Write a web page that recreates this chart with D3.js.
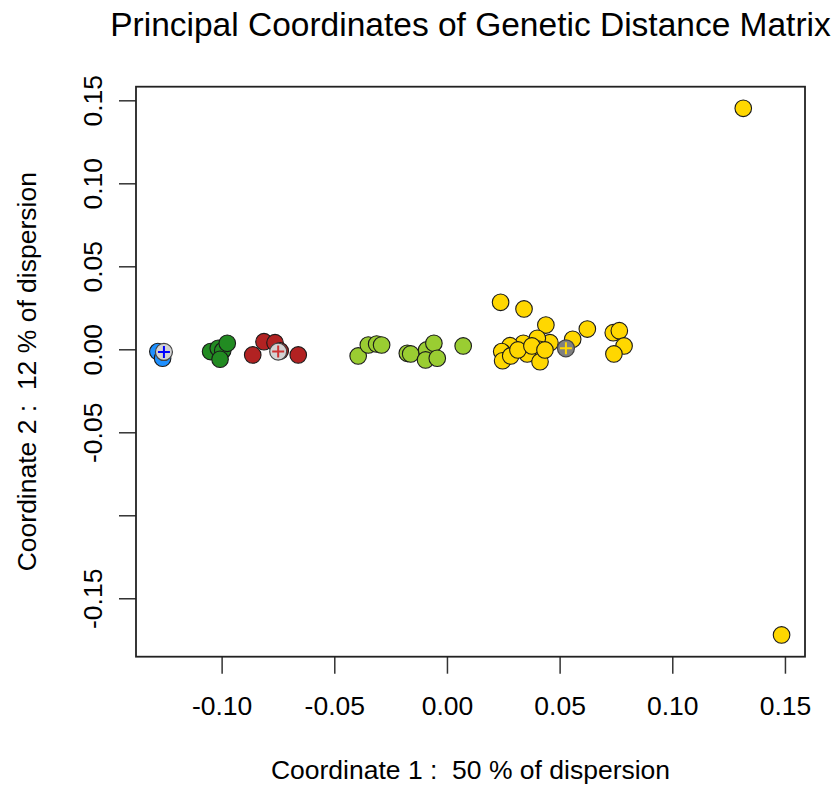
<!DOCTYPE html>
<html><head><meta charset="utf-8">
<script src="https://cdn.jsdelivr.net/npm/d3@7"></script>
<style>body{margin:0;background:#fff}svg{display:block}text{font-family:"Liberation Sans",Arial,sans-serif;fill:#000;white-space:pre}</style>
</head><body><div id="chart"></div>
<script>
// ---- data ----
const blueX = [-0.1283, -0.1262];
const blueY = [-0.0014, -0.0054];
const darkGreenX = [-0.1049, -0.1015, -0.0995, -0.0975, -0.1007];
const darkGreenY = [-0.0014, 0.0006, -0.0008, 0.0036, -0.0060];
const redX = [-0.0862, -0.0812, -0.0763, -0.0740, -0.0660];
const redY = [-0.0034, 0.0046, 0.0040, -0.0010, -0.0034];
const yellowGreenX = [-0.0394, -0.0349, -0.0312, -0.0290, -0.0176, -0.0161, -0.0090, -0.0058, -0.0095, -0.0043, 0.0072];
const yellowGreenY = [-0.0040, 0.0026, 0.0032, 0.0026, -0.0024, -0.0028, -0.0004, 0.0036, -0.0064, -0.0054, 0.0020];
const goldX = [0.0238, 0.0342, 0.0439, 0.0623, 0.0738, 0.0765, 0.0786, 0.0741, 0.0558, 0.0457, 0.0401, 0.0410, 0.0339, 0.0280, 0.0243, 0.0247, 0.0283, 0.0356, 0.0413, 0.0315, 0.0377, 0.0435, 0.1315, 0.1485];
const goldY = [0.0283, 0.0243, 0.0146, 0.0122, 0.0100, 0.0112, 0.0020, -0.0028, 0.0060, 0.0040, 0.0066, 0.0000, 0.0036, 0.0022, -0.0014, -0.0069, -0.0040, -0.0028, -0.0075, -0.0004, 0.0020, -0.0004, 0.1452, -0.1721];
const centroidX = [-0.1256, -0.0749, 0.0528];
const centroidY = [-0.0016, -0.0014, 0.0006];
const xTicks = [-0.10, -0.05, 0.00, 0.05, 0.10, 0.15];
const xTickLabels = ["-0.10", "-0.05", "0.00", "0.05", "0.10", "0.15"];
const yTicks = [-0.15, -0.10, -0.05, 0.00, 0.05, 0.10, 0.15];
const yTickLabels = ["-0.15", "", "-0.05", "0.00", "0.05", "0.10", "0.15"];
const xDomain = [-0.138, 0.1589];
const yDomain = [-0.1852, 0.1582];

// ---- styles ----
const groups = [
  {xs: blueX, ys: blueY, fill: "#1E90FF"},
  {xs: darkGreenX, ys: darkGreenY, fill: "#228B22"},
  {xs: redX, ys: redY, fill: "#B22222"},
  {xs: yellowGreenX, ys: yellowGreenY, fill: "#9ACD32"},
  {xs: goldX, ys: goldY, fill: "#FFD700"}
];
const centroidFill = ["#D3D3D3", "#D3D3D3", "#808080"];
const centroidPlus = ["#0000FF", "#CD3333", "#FFD700"];

const W = 837, H = 785;
const L = 136, R = 805, T = 86.7, B = 656.7;
const FONT = '"Liberation Sans",Arial,sans-serif';
const svg = d3.select("#chart").append("svg").attr("width", W).attr("height", H);
const x = d3.scaleLinear().domain(xDomain).range([L, R]);
const y = d3.scaleLinear().domain(yDomain).range([B, T]);

// axes
const xAxis = d3.axisBottom(x).tickValues(xTicks).tickSize(17).tickPadding(22)
  .tickFormat((d, i) => xTickLabels[i]);
const gx = svg.append("g").attr("transform", `translate(0,${B})`).call(xAxis);
gx.select(".domain").remove();
gx.selectAll("line").attr("stroke", "#333").attr("stroke-width", 1.5);
gx.selectAll("text").style("font-size", "26.5px").attr("fill", "#000").attr("font-family", FONT);

const yAxis = d3.axisLeft(y).tickValues(yTicks).tickSize(17)
  .tickFormat((d, i) => yTickLabels[i]);
const gy = svg.append("g").attr("transform", `translate(${L},0)`).call(yAxis);
gy.select(".domain").remove();
gy.selectAll("line").attr("stroke", "#333").attr("stroke-width", 1.5);
gy.selectAll("text").style("font-size", "26.5px").attr("fill", "#000")
  .attr("font-family", FONT)
  .attr("x", null).attr("dy", null)
  .attr("text-anchor", "middle")
  .attr("transform", "translate(-34,0) rotate(-90)");

// box
svg.append("rect").attr("x", L).attr("y", T).attr("width", R - L).attr("height", B - T)
  .attr("fill", "none").attr("stroke", "#222").attr("stroke-width", 1.8);

// points
groups.forEach(g => {
  svg.append("g").selectAll("circle").data(g.xs.map((v, i) => [v, g.ys[i]])).join("circle")
    .attr("cx", d => x(d[0])).attr("cy", d => y(d[1])).attr("r", 8.3)
    .attr("fill", g.fill).attr("stroke", "#1a1a1a").attr("stroke-width", 1.1);
});
// centroids
const cg = svg.append("g");
centroidX.forEach((cx, i) => {
  const px = x(cx), py = y(centroidY[i]);
  cg.append("circle").attr("cx", px).attr("cy", py).attr("r", 8.5)
    .attr("fill", centroidFill[i]).attr("stroke", "#444").attr("stroke-width", 1.2);
  cg.append("path").attr("d", `M${px - 6},${py}H${px + 6}M${px},${py - 6}V${py + 6}`)
    .attr("stroke", centroidPlus[i]).attr("stroke-width", 2);
});

// titles
svg.append("text").attr("x", (L + R) / 2).attr("y", 36).attr("text-anchor", "middle")
  .style("font-size", "33.5px").text("Principal Coordinates of Genetic Distance Matrix");
svg.append("text").attr("x", (L + R) / 2).attr("y", 779).attr("text-anchor", "middle")
  .attr("xml:space", "preserve")
  .style("font-size", "26.5px").text("Coordinate 1 :  50 % of dispersion");
svg.append("text").attr("transform", `translate(36,${(T + B) / 2}) rotate(-90)`).attr("text-anchor", "middle")
  .attr("xml:space", "preserve")
  .style("font-size", "26.5px").text("Coordinate 2 :  12 % of dispersion");
</script></body></html>
